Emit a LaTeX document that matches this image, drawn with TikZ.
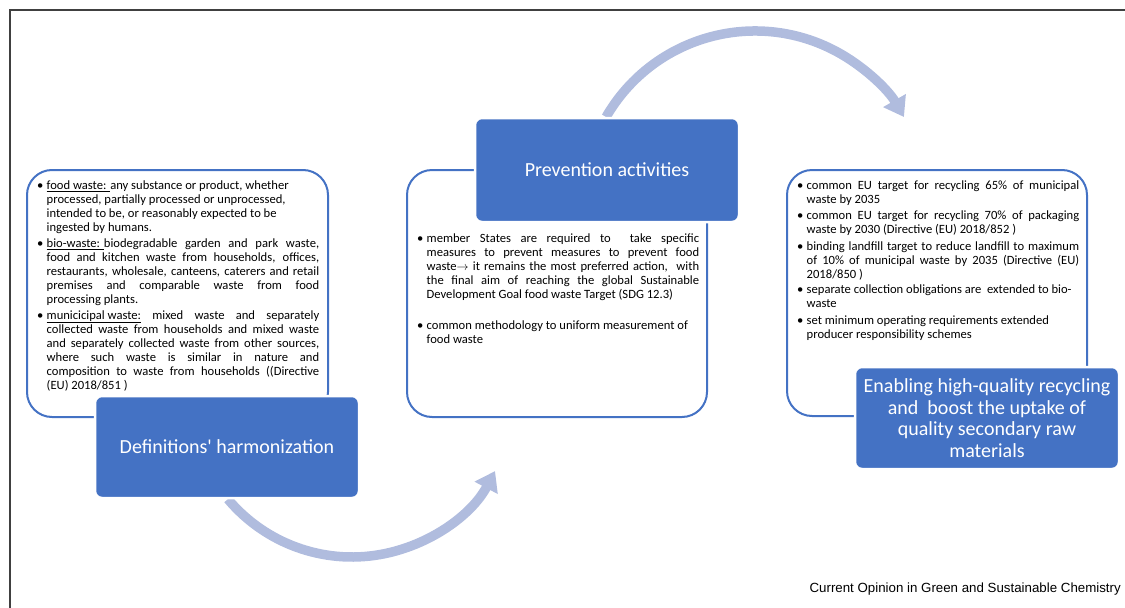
\documentclass[tikz,border=0pt]{standalone}
\usepackage{fontspec}
\setmainfont{Carlito}
\newfontfamily\capfont{Liberation Sans}
\usetikzlibrary{arrows.meta}
\definecolor{darkblue}{HTML}{4472C4}
\definecolor{lightarrow}{RGB}{176,188,222}
\definecolor{framegray}{HTML}{404040}
\newcommand\bitem{\par\noindent\hangindent=9.5pt\hangafter=1\makebox[9.5pt][l]{\textbullet}}
\tikzset{
  darkbox/.style={fill=darkblue, draw=white, line width=2.5pt, rounded corners=7pt,
    text=white, align=center, font=\fontsize{20}{21.5}\selectfont, inner sep=0pt},
  outlinebox/.style={draw=darkblue, line width=2pt, rounded corners=25pt, inner sep=0pt},
  txt/.style={inner sep=0pt, text width=282pt, align=justify,
    font=\fontsize{12.6}{14.1}\selectfont, text=black, anchor=north west},
  cyclearrow/.style={draw=lightarrow, line width=9.5pt,
    -{Triangle[width=25pt,length=19pt]}}
}
\begin{document}
\begin{tikzpicture}[x=1pt,y=-1pt]
\useasboundingbox (0,0) rectangle (1125,608);
\draw[framegray, line width=1.5pt] (10,608) -- (10,10) -- (1125,10);

% circular arrows
\coordinate (lc) at (352,395);
\coordinate (uc) at (755,203);
\draw[cyclearrow] ([shift={(220:162pt)}]lc) arc[start angle=220, end angle=332, radius=162pt];
\draw[cyclearrow] ([shift={(150:172pt)}]uc) arc[start angle=150, end angle=30, radius=172pt];

% outline boxes
\node[outlinebox, minimum width=301pt, minimum height=247pt] (lo) at (177.5,293.5) {};
\node[outlinebox, minimum width=300pt, minimum height=247pt] (mo) at (557,293.5) {};
\node[outlinebox, minimum width=300pt, minimum height=246pt] (ro) at (937,293) {};

% text
\node[txt] (lt) at (37,175) {%
\bitem\underline{food waste: }any substance or product, whether\newline
processed, partially processed or unprocessed,\newline
intended to be, or reasonably expected to be\newline
ingested by humans.\par\vspace{1.6pt}
\bitem\underline{bio-waste: }biodegradable garden and park waste,\linebreak
food and kitchen waste from households, offices,\linebreak
restaurants, wholesale, canteens, caterers and retail\linebreak
premises and comparable waste from food\linebreak
processing plants.\par\vspace{1.2pt}
\bitem\underline{municicipal waste:} mixed waste and separately\linebreak
collected waste from households and mixed waste\linebreak
and separately collected waste from other sources,\linebreak
where such waste is similar in nature and\linebreak
composition to waste from households ((Directive\linebreak
(EU) 2018/851 )\par};

\node[txt] (mt) at (417,228) {%
\bitem member States are required to \ take specific\linebreak
measures to prevent measures to prevent food\linebreak
waste$\rightarrow$ it remains the most preferred action, \ with\linebreak
the final aim of reaching the global Sustainable\linebreak
Development Goal food waste Target (SDG 12.3)\par\vspace{16.8pt}
\bitem common methodology to uniform measurement of\newline
food waste\par};

\node[txt] (rt) at (797,175) {%
\bitem common EU target for recycling 65\% of municipal\linebreak
waste by 2035\par\vspace{1.8pt}
\bitem common EU target for recycling 70\% of packaging\linebreak
waste by 2030 (Directive (EU) 2018/852 )\par\vspace{2.5pt}
\bitem binding landfill target to reduce landfill to maximum\linebreak
of 10\% of municipal waste by 2035 (Directive (EU)\linebreak
2018/850 )\par\vspace{1pt}
\bitem separate collection obligations are \ extended to bio-\newline
waste\par\vspace{2.5pt}
\bitem set minimum operating requirements extended\newline
producer responsibility schemes\par};

% dark boxes
\node[darkbox, minimum width=264pt, minimum height=102pt] (def) at (227,447) {Definitions\textquotesingle\ harmonization};
\node[darkbox, minimum width=264pt, minimum height=104pt] (prev) at (607,170) {Prevention activities};
\node[darkbox, minimum width=264pt, minimum height=102pt] (enab) at (987,418) {Enabling high-quality recycling\\and \ boost the uptake of\\quality secondary raw\\materials};

% caption
\node[anchor=east, inner sep=0pt, font=\capfont\fontsize{13.3}{15}\selectfont] (cap) at (1121,589) {Current Opinion in Green and Sustainable Chemistry};
\end{tikzpicture}
\end{document}
